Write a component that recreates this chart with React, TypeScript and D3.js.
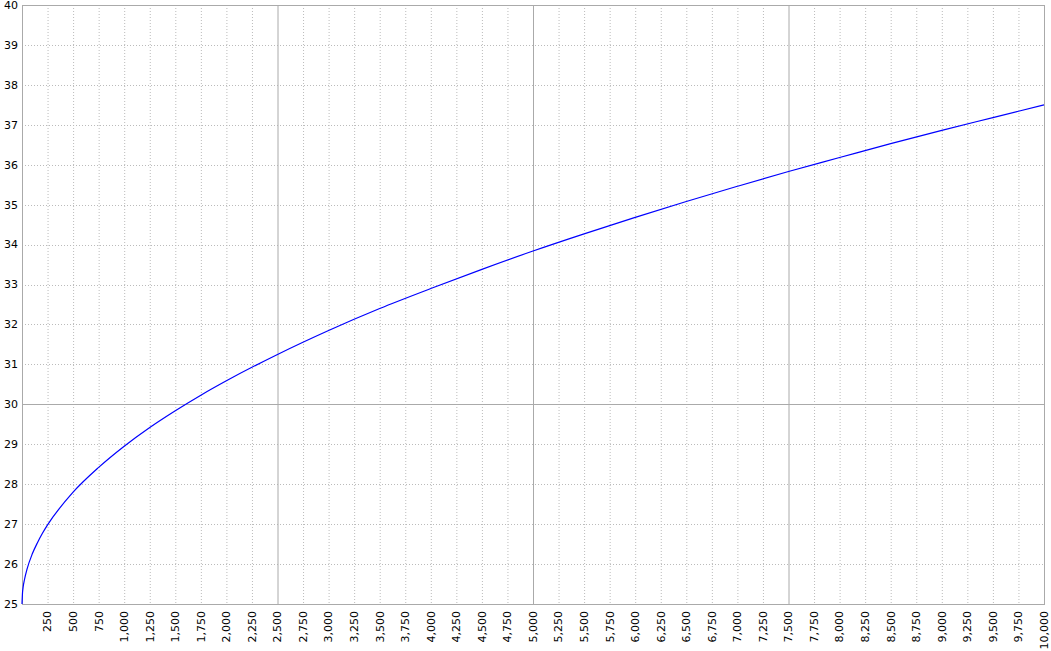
import React from "react";
import * as d3 from "d3";

const xValues = [0, 5, 10, 25, 50, 100, 150, 200, 250, 500, 750, 1000, 1250, 1500, 1750, 2000, 2500, 3000, 3500, 4000, 4500, 5000, 5500, 6000, 6500, 7000, 7500, 8000, 8500, 9000, 9500, 10000];
const yValues = [25, 25.28, 25.4, 25.62, 25.88, 26.25, 26.53, 26.77, 26.98, 27.8, 28.42, 28.95, 29.42, 29.84, 30.23, 30.59, 31.25, 31.85, 32.4, 32.9, 33.38, 33.84, 34.27, 34.68, 35.08, 35.46, 35.83, 36.18, 36.53, 36.86, 37.18, 37.5];
const xTicks = d3.range(250, 10001, 250);
const yTicks = d3.range(25, 41, 1);
const xMajor = [2500, 5000, 7500];
const yMajor = [30];

const W = 1051, H = 651;
const left = 22, right = 1044, top = 5, bottom = 604;

export default function App() {
  const x = d3.scaleLinear().domain([0, 10000]).range([left, right]);
  const y = d3.scaleLinear().domain([25, 40]).range([bottom, top]);
  const pts = xValues.map((v, i) => [v, yValues[i]] as [number, number]);
  const line = d3.line<[number, number]>().x(d => x(d[0])).y(d => y(d[1])).curve(d3.curveMonotoneX);
  const fmt = d3.format(",");
  const font = "'DejaVu Sans', sans-serif";
  return (
    <svg width={W} height={H} style={{ position: "absolute", left: 0, top: 0, background: "#fff" }}>
      <rect x={0} y={0} width={W} height={H} fill="#fff" />
      {xTicks.filter(t => !xMajor.includes(t) && t !== 10000).map(t => (
        <line key={"gx" + t} x1={x(t) + 0.5} x2={x(t) + 0.5} y1={top} y2={bottom} stroke="#bbb" strokeDasharray="1,2" />
      ))}
      {yTicks.filter(t => !yMajor.includes(t) && t !== 25 && t !== 40).map(t => (
        <line key={"gy" + t} x1={left} x2={right} y1={Math.round(y(t)) + 0.5} y2={Math.round(y(t)) + 0.5} stroke="#bbb" strokeDasharray="1,2" />
      ))}
      {xMajor.map(t => (
        <line key={"mx" + t} x1={x(t) + 0.5} x2={x(t) + 0.5} y1={top} y2={bottom} stroke="#aaa" />
      ))}
      {yMajor.map(t => (
        <line key={"my" + t} x1={left} x2={right} y1={Math.round(y(t)) + 0.5} y2={Math.round(y(t)) + 0.5} stroke="#aaa" />
      ))}
      <rect x={left + 0.5} y={top + 0.5} width={right - left} height={bottom - top} fill="none" stroke="#aaa" />
      <path d={line(pts) || ""} fill="none" stroke="#0000ff" strokeWidth={1.2} />
      {yTicks.map(t => (
        <text key={"ly" + t} x={18} y={y(t)} dy="0.35em" textAnchor="end" fontSize={11} fontFamily={font} fill="#000">{t}</text>
      ))}
      {xTicks.map(t => (
        <text key={"lx" + t} transform={`translate(${x(t)},611) rotate(-90)`} dy="0.35em" textAnchor="end" fontSize={11} fontFamily={font} fill="#000">{fmt(t)}</text>
      ))}
    </svg>
  );
}
